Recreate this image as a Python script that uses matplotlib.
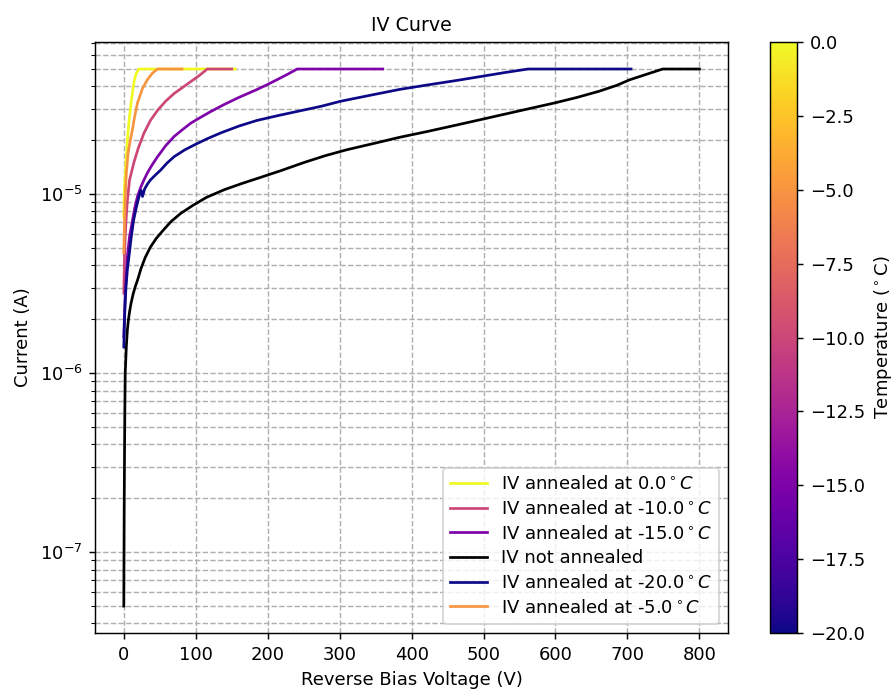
import numpy as np
import matplotlib
matplotlib.use("Agg")
import matplotlib.pyplot as plt
from matplotlib import cm, colors

# ---- data ----
temps = [0.0, -10.0, -15.0, None, -20.0, -5.0]

v_0 = [0, 0.5, 1, 2, 3, 5, 7, 10, 14, 17, 21, 155]
i_0 = [7.45e-6, 9.5e-6, 1.1e-5, 1.3e-5, 1.5e-5, 2.0e-5, 2.5e-5, 3.2e-5, 4.2e-5, 4.7e-5, 5e-5, 5e-5]

v_m10 = [0, 1, 2, 3, 5, 8, 14, 20, 28, 37, 47, 58, 70, 82, 93, 105, 116, 150]
i_m10 = [2.8e-6, 4.5e-6, 5.8e-6, 7.0e-6, 9.2e-6, 1.2e-5, 1.5e-5, 1.8e-5, 2.19e-5, 2.58e-5, 2.94e-5,
         3.3e-5, 3.65e-5, 3.95e-5, 4.25e-5, 4.6e-5, 5e-5, 5e-5]

v_m15 = [0, 2, 5, 8, 12, 15, 19, 23, 28, 33, 40, 47, 58, 70, 82, 93, 105, 120, 139, 160, 185,
         200, 215, 228, 241, 360]
i_m15 = [1.6e-6, 2.8e-6, 4.5e-6, 5.8e-6, 7.1e-6, 8.3e-6, 9.7e-6, 1.08e-5, 1.2e-5, 1.32e-5, 1.47e-5,
         1.62e-5, 1.86e-5, 2.1e-5, 2.3e-5, 2.49e-5, 2.66e-5, 2.88e-5, 3.16e-5, 3.47e-5, 3.84e-5,
         4.1e-5, 4.4e-5, 4.68e-5, 5e-5, 5e-5]

v_na = [0, 0.5, 1, 1.5, 2, 2.5, 3.5, 5, 6.5, 8, 10, 13, 16, 19, 24, 30, 37, 45, 55, 66, 79, 95,
        115, 140, 165, 190, 220, 250, 280, 310, 350, 384, 420, 460, 500, 550, 600, 630, 661, 685,
        703, 725, 749, 800]
i_na = [5e-8, 1.6e-7, 3.5e-7, 6.5e-7, 1.0e-6, 1.12e-6, 1.4e-6, 1.75e-6, 2.0e-6, 2.2e-6, 2.45e-6,
        2.77e-6, 3.05e-6, 3.3e-6, 3.85e-6, 4.45e-6, 5.06e-6, 5.65e-6, 6.3e-6, 7.05e-6, 7.8e-6,
        8.6e-6, 9.6e-6, 1.06e-5, 1.15e-5, 1.24e-5, 1.36e-5, 1.5e-5, 1.64e-5, 1.77e-5, 1.93e-5,
        2.08e-5, 2.23e-5, 2.42e-5, 2.63e-5, 2.92e-5, 3.24e-5, 3.47e-5, 3.76e-5, 4.05e-5, 4.35e-5,
        4.65e-5, 5e-5, 5e-5]

v_m20 = [0, 1, 2, 3, 5, 7.5, 10, 13.5, 17, 20, 22, 24, 26, 29, 33, 37, 44, 51, 60, 70, 85, 100,
         116, 135, 160, 185, 215, 245, 275, 301, 340, 384, 430, 465, 499, 530, 562, 705]
i_m20 = [1.4e-6, 2.0e-6, 2.5e-6, 3.0e-6, 3.8e-6, 4.6e-6, 5.6e-6, 7.1e-6, 8.3e-6, 9.3e-6, 1.0e-5,
         1.05e-5, 9.7e-6, 1.07e-5, 1.14e-5, 1.2e-5, 1.28e-5, 1.36e-5, 1.49e-5, 1.62e-5, 1.77e-5,
         1.9e-5, 2.04e-5, 2.2e-5, 2.4e-5, 2.58e-5, 2.75e-5, 2.92e-5, 3.1e-5, 3.3e-5, 3.55e-5,
         3.85e-5, 4.12e-5, 4.33e-5, 4.56e-5, 4.78e-5, 5e-5, 5e-5]

v_m5 = [0, 1, 2, 3.5, 6, 9, 12, 15, 19, 26, 33, 40, 47, 81]
i_m5 = [4.7e-6, 7.0e-6, 9.5e-6, 1.3e-5, 1.7e-5, 2.0e-5, 2.29e-5, 2.7e-5, 3.23e-5, 3.9e-5, 4.37e-5,
        4.75e-5, 5e-5, 5e-5]

series_v = [v_0, v_m10, v_m15, v_na, v_m20, v_m5]
series_i = [i_0, i_m10, i_m15, i_na, i_m20, i_m5]

# ---- plot ----
DPI = 130
fig = plt.figure(figsize=(6.8693, 5.3154), dpi=DPI)
ax = fig.add_axes([0.1064, 0.084, 0.709, 0.855])
cax = fig.add_axes([0.8625, 0.084, 0.030, 0.855])

cmap = plt.get_cmap("plasma")
norm = colors.Normalize(vmin=-20, vmax=0)

for T, v, i in zip(temps, series_v, series_i):
    if T is None:
        ax.plot(v, i, color="black", lw=1.5, label="IV not annealed")
    else:
        ax.plot(v, i, color=cmap(norm(T)), lw=1.5,
                label=f"IV annealed at {T}$^\\circ C$")

ax.set_yscale("log")
ax.grid(True, which="both", linestyle="--")
ax.set_title("IV Curve", fontsize=10.5)
ax.set_xlabel("Reverse Bias Voltage (V)")
ax.set_ylabel("Current (A)")
ax.set_xticks(np.arange(0, 801, 100))
ax.legend(loc="lower right", labelspacing=0.37)

sm = cm.ScalarMappable(norm=norm, cmap=cmap)
sm.set_array([])
cb = fig.colorbar(sm, cax=cax)
cb.set_label("Temperature ($^\\circ$C)")

fig.savefig("out.png", dpi=DPI)
